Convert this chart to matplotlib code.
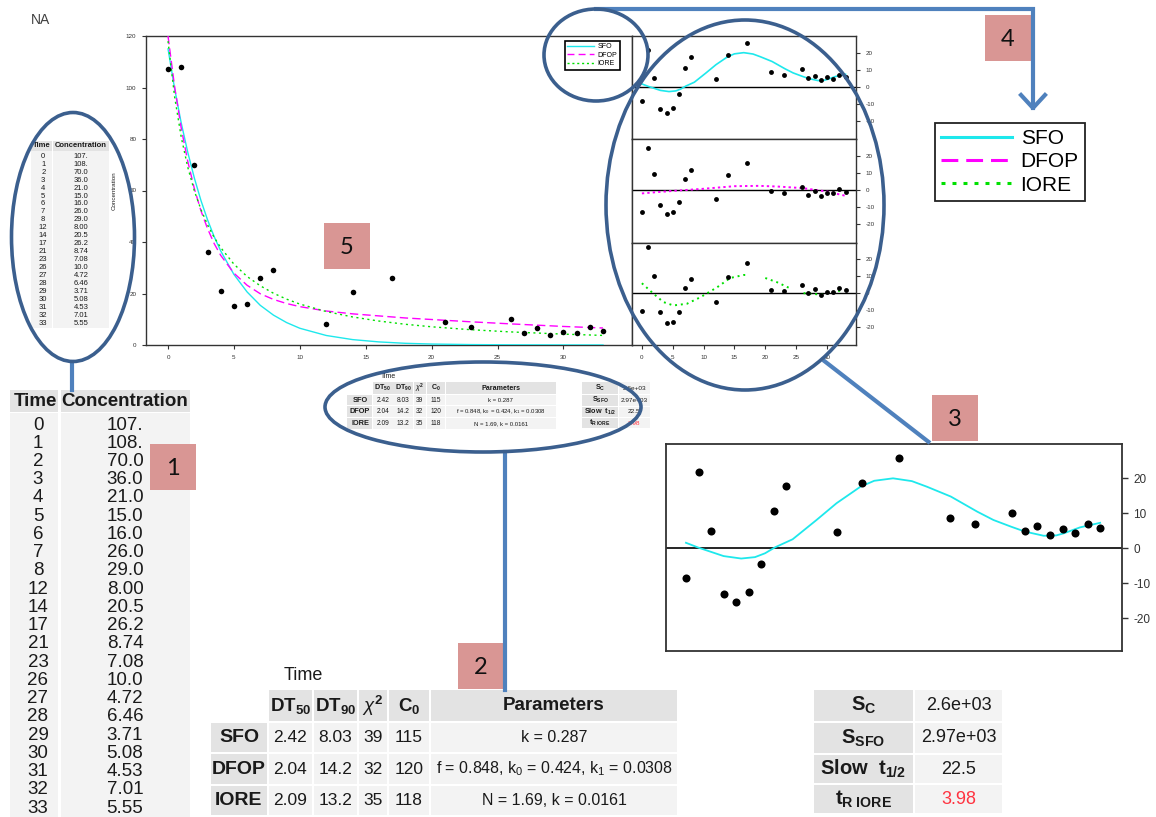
import matplotlib
matplotlib.use('Agg')
import matplotlib.pyplot as plt
from matplotlib.patches import Rectangle, Ellipse
from matplotlib.lines import Line2D
from matplotlib import font_manager

# ---- data ----
time = [0, 1, 2, 3, 4, 5, 6, 7, 8, 12, 14, 17, 21, 23, 26, 27, 28, 29, 30, 31, 32, 33]
conc = [107, 108, 70.0, 36.0, 21.0, 15.0, 16.0, 26.0, 29.0, 8.00, 20.5, 26.2,
        8.74, 7.08, 10.0, 4.72, 6.46, 3.71, 5.08, 4.53, 7.01, 5.55]
conc_labels = ['107.', '108.', '70.0', '36.0', '21.0', '15.0', '16.0', '26.0', '29.0',
               '8.00', '20.5', '26.2', '8.74', '7.08', '10.0', '4.72', '6.46', '3.71',
               '5.08', '4.53', '7.01', '5.55']

# fitted curves as drawn in the main panel
t_fit = [0, 0.5, 1, 1.5, 2, 2.5, 3, 3.5, 4, 5, 6, 7, 8, 9, 10, 12, 14, 16, 18, 20, 23, 26, 30, 33]
sfo_fit = [115, 99.6, 86.3, 74.8, 64.8, 56.1, 48.6, 42.1, 36.5, 27.4, 20.6, 15.4, 11.6, 8.7,
           6.5, 3.7, 2.1, 1.2, 0.66, 0.37, 0.16, 0.07, 0.02, 0.01]
dfop_fit = [120, 100.3, 84.3, 71.3, 60.7, 52.1, 45.2, 39.4, 34.8, 27.9, 23.2, 19.9, 17.7, 16.1,
            14.9, 13.2, 12.1, 11.3, 10.5, 9.9, 9.0, 8.2, 7.2, 6.6]
iore_fit = [118, 96.4, 80.8, 69.0, 59.8, 52.6, 46.7, 41.8, 37.8, 31.4, 26.6, 23.0, 20.1, 17.8,
            15.9, 13.0, 10.9, 9.3, 8.05, 7.07, 5.93, 5.08, 4.22, 3.72]

# residuals
res_sfo = [-8.4, 21.7, 5.0, -12.9, -15.4, -12.5, -4.5, 10.8, 17.7, 4.6, 18.8, 25.7,
           8.6, 7.1, 10.2, 5.0, 6.4, 3.8, 5.4, 4.5, 7.1, 5.7]
res_dfop = [-13.0, 24.3, 9.5, -8.9, -13.8, -12.6, -7.0, 6.4, 12.0, -4.9, 8.7, 15.7,
            -0.4, -1.6, 1.7, -3.1, -0.6, -3.5, -1.9, -1.9, 0.8, -1.0]
res_iore = [-10.8, 27.5, 10.0, -11.2, -17.6, -17.3, -11.4, 2.9, 8.6, -5.5, 9.8, 17.8,
            2.0, 1.2, 5.1, -0.2, 2.2, -0.8, 0.8, 0.6, 2.9, 2.0]

# smoothers through the residuals
sm_sfo_t = [0, 1, 2, 3, 4.4, 5.5, 6.3, 7.1, 8.5, 10.4, 12, 13.9, 15, 16.5, 18, 19.2, 21.1,
            23.2, 24.5, 25.9, 27, 28.5, 29.5, 30.1, 31.4, 33]
sm_sfo_y = [1.6, 0.2, -1.0, -2.2, -2.9, -2.5, -1.4, 0.3, 2.6, 8.1, 12.9, 17.6, 19.3, 20.0,
            19.2, 17.6, 14.8, 10.5, 8.1, 6.2, 4.8, 3.6, 3.7, 4.3, 6.0, 7.3]
sm_dfop_t = [0, 3, 6, 10, 15, 19, 22, 26, 30, 33]
sm_dfop_y = [-1.9, -1.0, -0.2, 0.8, 2.3, 2.5, 2.1, 1.2, -0.8, -3.3]
sm_iore_t = [0, 1.9, 3.5, 5.1, 7.3, 9.5, 12.2, 14.3, 16.5, 17, float('nan'), 20, 21.9, 24,
             float('nan'), 26.2, 28.9, 31.1, 32.7]
sm_iore_y = [5.9, -0.4, -5.3, -7.3, -6.3, -2.4, 3.5, 9.0, 10.8, 10.8, float('nan'), 9.0, 6.5,
             2.9, float('nan'), 0.0, -0.8, 0.6, 2.0]

models = ['SFO', 'DFOP', 'IORE']
param_headers = ['DT$_{\\mathbf{50}}$', 'DT$_{\\mathbf{90}}$', '$\\chi^{\\mathbf{2}}$',
                 'C$_{\\mathbf{0}}$', 'Parameters']
dt50 = ['2.42', '2.04', '2.09']
dt90 = ['8.03', '14.2', '13.2']
chi2 = ['39', '32', '35']
c0 = ['115', '120', '118']
params = ['k = 0.287', 'f = 0.848, k$_0$ = 0.424, k$_1$ = 0.0308', 'N = 1.69, k = 0.0161']
stat_labels = ['S$_{\\mathbf{C}}$', 'S$_{\\mathbf{SFO}}$', 'Slow  t$_{\\mathbf{1/2}}$',
               't$_{\\mathbf{R\\ IORE}}$']
stat_values = ['2.6e+03', '2.97e+03', '22.5', '3.98']
stat_colors = ['#1a1a1a', '#1a1a1a', '#1a1a1a', '#ff3340']

# ---- styles ----
names = {f.name for f in font_manager.fontManager.ttflist}
NARROW = 'Liberation Sans Narrow' if 'Liberation Sans Narrow' in names else 'Liberation Sans'
plt.rcParams['font.family'] = ['Liberation Sans', 'DejaVu Sans']
plt.rcParams['axes.unicode_minus'] = False
plt.rcParams['mathtext.fontset'] = 'custom'
plt.rcParams['mathtext.rm'] = NARROW
plt.rcParams['mathtext.it'] = NARROW + ':italic'
plt.rcParams['mathtext.bf'] = NARROW + ':bold'

CYAN = '#1ee8ec'
MAG = '#ff00ff'
GRN = '#00e000'
ELL = '#3b5f8e'
CON = '#4f81bd'
PINK = '#d99694'
HEAD = '#e3e3e3'
BODY = '#f3f3f3'

W, H = 1156, 817
fig = plt.figure(figsize=(W / 100, H / 100), dpi=100)


def frac(x, y, w, h):
    return [x / W, 1 - (y + h) / H, w / W, h / H]


def style(ax, lw=1.0):
    for s in ax.spines.values():
        s.set_linewidth(lw)
        s.set_color('#333333')


# ---- main concentration plot ----
ax = fig.add_axes(frac(146, 36, 486, 309))
ax.plot(t_fit, sfo_fit, color=CYAN, lw=1.0, zorder=3)
ax.plot(t_fit, dfop_fit, color=MAG, lw=1.0, dashes=(6, 3), zorder=3)
ax.plot(t_fit, iore_fit, color=GRN, lw=1.0, dashes=(1.5, 2.5), zorder=3)
ax.plot(time, conc, 'o', color='black', ms=4.0, mew=0, zorder=4)
ax.set_xlim(-1.67, 35.2)
ax.set_ylim(0, 120)
ax.set_xticks(range(0, 31, 5))
ax.set_yticks(range(0, 121, 20))
ax.tick_params(labelsize=4.5, length=3, width=0.8, colors='#333333', pad=4)
ax.set_ylabel('Concentration', fontsize=4.5, color='#222222')
ax.yaxis.set_label_coords(-29 / 486, 0.5)
style(ax)

fig.legend(handles=[Line2D([], [], color=CYAN, lw=1),
                    Line2D([], [], color=MAG, lw=1, dashes=(5, 3)),
                    Line2D([], [], color=GRN, lw=1, dashes=(1.5, 2))],
           labels=models, loc='upper right', bbox_to_anchor=(620 / W, 1 - 41 / H),
           fontsize=5, fancybox=False, edgecolor='black', framealpha=1, borderpad=0.35,
           handlelength=3.8, handletextpad=0.6, labelspacing=0.2,
           borderaxespad=0).get_frame().set_linewidth(1.2)

# ---- residual panels ----
panels = [(36, 103, res_sfo, sm_sfo_t, sm_sfo_y, CYAN, None),
          (139, 104, res_dfop, sm_dfop_t, sm_dfop_y, MAG, (1.2, 1.6)),
          (243, 102, res_iore, sm_iore_t, sm_iore_y, GRN, (1.0, 2.0))]
for k, (top, hgt, res, st, sy, col, dash) in enumerate(panels):
    r = fig.add_axes(frac(632, top, 224, hgt))
    r.axhline(0, color='black', lw=1.0, zorder=2)
    if dash is None:
        r.plot(st, sy, color=col, lw=1.2, zorder=3)
    else:
        r.plot(st, sy, color=col, lw=1.4, dashes=dash, zorder=3)
    r.plot(time, res, 'o', color='black', ms=3.5, mew=0, zorder=4)
    r.set_xlim(-1.6, 34.7)
    r.set_ylim(-30.8, 29.8)
    r.yaxis.tick_right()
    r.set_yticks([-20, -10, 0, 10, 20])
    if k < 2:
        r.set_xticks([])
    else:
        r.set_xticks(range(0, 31, 5))
    r.tick_params(labelsize=4.5, length=3, width=0.8, colors='#333333', pad=4)
    style(r)

# ---- enlarged SFO residual panel ----
rb = fig.add_axes(frac(666, 444, 456, 207))
rb.axhline(0, color='black', lw=1.2, zorder=2)
rb.plot(sm_sfo_t, sm_sfo_y, color=CYAN, lw=1.3, zorder=3)
rb.plot(time, res_sfo, 'o', color='black', ms=5.8, mew=0, zorder=4)
rb.set_xlim(-1.59, 34.74)
rb.set_ylim(-29.3, 29.8)
rb.yaxis.tick_right()
rb.set_yticks([-20, -10, 0, 10, 20])
rb.set_xticks([])
rb.tick_params(labelsize=8.5, length=4, width=1, colors='#333333', pad=4)
style(rb, 1.3)

# ---- enlarged legend ----
fig.legend(handles=[Line2D([], [], color=CYAN, lw=2.2),
                    Line2D([], [], color=MAG, lw=2.2, dashes=(5.5, 2.6)),
                    Line2D([], [], color=GRN, lw=2.2, dashes=(1.3, 2.3))],
           labels=models, loc='upper right', bbox_to_anchor=(1085 / W, 1 - 123 / H),
           fontsize=15, fancybox=False, edgecolor='#222222', framealpha=1, borderpad=0.3,
           handlelength=3.4, handletextpad=0.4, labelspacing=0.2,
           borderaxespad=0).get_frame().set_linewidth(1.3)

# ---- overlay for tables and annotations ----
ov = fig.add_axes([0, 0, 1, 1], zorder=10)
ov.set_xlim(0, W)
ov.set_ylim(H, 0)
ov.axis('off')
ov.patch.set_alpha(0)


def box(x, y, w, h, fc):
    ov.add_patch(Rectangle((x, y), w, h, fc=fc, ec='none', zorder=2))


def put(x, y, s, size, weight='normal', color='#1a1a1a', family=NARROW):
    ov.text(x, y, s, ha='center', va='center', fontsize=size, fontweight=weight,
            color=color, family=family, zorder=3)


def data_table(x0, y0, s, fs):
    box(x0, y0, 48 * s, 22 * s, HEAD)
    box(x0 + 51 * s, y0, 129 * s, 22 * s, HEAD)
    box(x0, y0 + 23 * s, 48 * s, 405 * s, BODY)
    box(x0 + 51 * s, y0 + 23 * s, 129 * s, 405 * s, BODY)
    put(x0 + 25 * s, y0 + 11 * s, 'Time', fs, 'bold')
    put(x0 + 115 * s, y0 + 11 * s, 'Concentration', fs, 'bold')
    for i, (t, c) in enumerate(zip(time, conc_labels)):
        yy = y0 + (35 + i * 18.24) * s
        put(x0 + 28 * s, yy, str(t), fs)
        put(x0 + 115 * s, yy, c, fs)


def param_table(x0, y0, sx, sy, fs):
    col = [0, 58, 103, 148, 178, 220, 468]
    row = [0, 33, 64, 96, 127]
    ov.text(x0 + 93 * sx, y0 - 14 * sy, 'Time', ha='center', va='center',
            fontsize=13 * fs, family=NARROW, color='#1a1a1a')
    for j, hd in enumerate(param_headers):
        c1, c2 = col[j + 1], col[j + 2]
        box(x0 + (c1 + 1) * sx, y0 + (row[0] + 1) * sy, (c2 - c1 - 2) * sx, (row[1] - row[0] - 2) * sy, HEAD)
        put(x0 + (c1 + c2) / 2 * sx, y0 + (row[0] + row[1]) / 2 * sy, hd, 13.5 * fs, 'bold')
    for i, name in enumerate(models):
        r1, r2 = row[i + 1], row[i + 2]
        box(x0 + (col[0] + 1) * sx, y0 + (r1 + 1) * sy, (col[1] - col[0] - 2) * sx, (r2 - r1 - 2) * sy, HEAD)
        put(x0 + (col[0] + col[1]) / 2 * sx, y0 + (r1 + r2) / 2 * sy, name, 14 * fs, 'bold')
        vals = [dt50[i], dt90[i], chi2[i], c0[i], params[i]]
        for j, v in enumerate(vals):
            c1, c2 = col[j + 1], col[j + 2]
            box(x0 + (c1 + 1) * sx, y0 + (r1 + 1) * sy, (c2 - c1 - 2) * sx, (r2 - r1 - 2) * sy, BODY)
            size = 11.5 if j == 4 else 12.5
            put(x0 + (c1 + c2) / 2 * sx, y0 + (r1 + r2) / 2 * sy, v, size * fs)


def stat_table(x0, y0, sx, sy, fs):
    col = [0, 101, 190]
    row = [0, 33, 65, 95, 125]
    for i, (lab, val, vc) in enumerate(zip(stat_labels, stat_values, stat_colors)):
        r1, r2 = row[i], row[i + 1]
        box(x0 + 1 * sx, y0 + (r1 + 1) * sy, 99 * sx, (r2 - r1 - 2) * sy, HEAD)
        box(x0 + 102 * sx, y0 + (r1 + 1) * sy, 87 * sx, (r2 - r1 - 2) * sy, BODY)
        put(x0 + 50.5 * sx, y0 + (r1 + r2) / 2 * sy, lab, 14.5 * fs, 'bold')
        put(x0 + 145.5 * sx, y0 + (r1 + r2) / 2 * sy, val, 13 * fs, color=vc)


data_table(10, 390, 1.0, 13.5)
data_table(31, 141, 0.436, 5.5)
param_table(210, 689, 1.0, 1.0, 1.0)
param_table(347, 382, 0.4466, 0.373, 0.38)
stat_table(813, 689, 1.0, 1.0, 1.0)
stat_table(582, 382, 0.36, 0.373, 0.36)

ov.text(40, 20, 'NA', ha='center', va='center', fontsize=10, color='#404040')

# ellipses
for cx, cy, w, h in [(73, 237, 123, 249), (483, 407, 316, 90),
                     (745, 205, 278, 370), (596, 55, 104, 92)]:
    ov.add_patch(Ellipse((cx, cy), w, h, fill=False, ec=ELL, lw=2.6, zorder=6))

# connectors
ov.plot([72, 72], [362, 390], color=CON, lw=3, zorder=5)
ov.plot([505, 505], [452, 690], color=CON, lw=3, zorder=5)
ov.plot([823, 930], [360, 443], color=CON, lw=3, zorder=5, solid_capstyle='butt')
ov.plot([596, 1033, 1033], [9, 9, 108], color=CON, lw=3, zorder=5, solid_joinstyle='miter')
ov.plot([1021, 1033, 1045], [95, 108, 95], color=CON, lw=3, zorder=5)

# numbered labels
for n, x, y in [('1', 150, 444), ('2', 458, 643), ('3', 932, 395), ('4', 985, 15), ('5', 324, 223)]:
    box(x, y, 46, 46, PINK)
    ov.text(x + 23, y + 24, n, ha='center', va='center', fontsize=17, family='Lato',
            color='#111111', zorder=3)

fig.savefig('out.png', dpi=100)
